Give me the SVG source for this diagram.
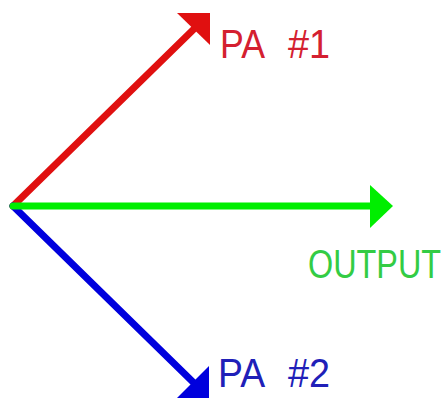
<svg xmlns="http://www.w3.org/2000/svg" width="447" height="401" viewBox="0 0 447 401">
<style>
.lbl{font-family:"Liberation Sans",Arial,sans-serif;font-size:41px}
.red{fill:#d42030}.grn{fill:#33cc44}.blu{fill:#2020b8}
</style>
<rect width="447" height="401" fill="#fff"/>
<g id="connectors" stroke-width="7" stroke-linecap="round">
<line x1="13" y1="206" x2="196" y2="27" stroke="#e01010"/>
<polygon points="177,13 210,13 210,45" fill="#e01010"/>
<line x1="13" y1="206" x2="195" y2="384" stroke="#0000dd"/>
<polygon points="209,366 209,398 177,398" fill="#0000dd"/>
<line x1="13" y1="206" x2="372" y2="206" stroke="#00ee00"/>
<polygon points="370,185 393,206 370,228" fill="#00ee00"/>
</g>
<g id="pa1"><text class="lbl red" y="58"><tspan x="220" textLength="43" lengthAdjust="spacingAndGlyphs">PA</tspan> <tspan x="288" textLength="42" lengthAdjust="spacingAndGlyphs">#1</tspan></text></g>
<g id="output"><text class="lbl grn" transform="translate(308,278) scale(0.79,1)">OUTPUT</text></g>
<g id="pa2"><text class="lbl blu" y="387"><tspan x="218" textLength="45" lengthAdjust="spacingAndGlyphs">PA</tspan> <tspan x="288" textLength="42" lengthAdjust="spacingAndGlyphs">#2</tspan></text></g>
</svg>
